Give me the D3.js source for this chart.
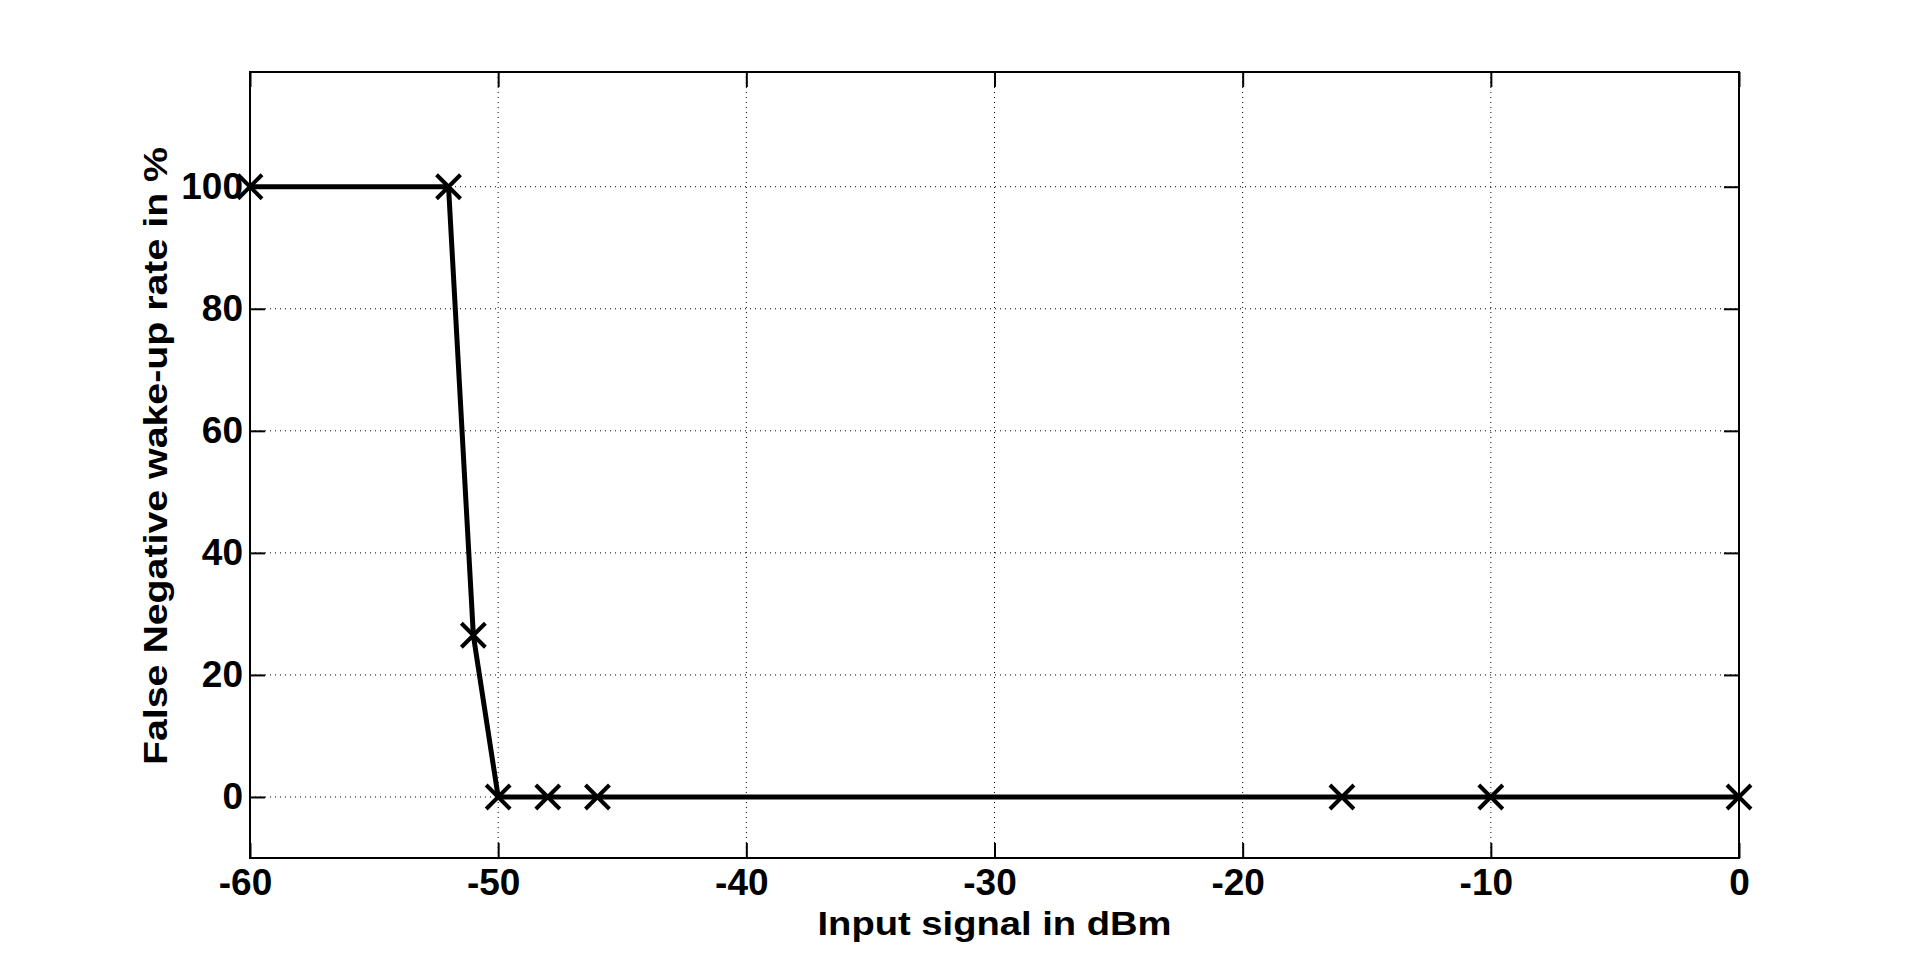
<!DOCTYPE html>
<html>
<head>
<meta charset="utf-8">
<script src="https://cdnjs.cloudflare.com/ajax/libs/d3/7.8.5/d3.min.js"></script>
<style>
  body { margin: 0; background: #fff; }
  text { font-family: "Liberation Sans", Arial, sans-serif; font-weight: bold; fill: #000; }
</style>
</head>
<body>
<div id="chart"></div>
<script>
// data
var inputDbm = [-60, -52, -51, -50, -48, -46, -16, -10, 0];
var falseNegRate = [100, 100, 26.5, 0, 0, 0, 0, 0, 0];
var xTicks = [-60, -50, -40, -30, -20, -10, 0];
var yTicks = [0, 20, 40, 60, 80, 100];

var width = 1921, height = 964;
var margin = { left: 250, right: 1921 - 1739, top: 72, bottom: 964 - 858 };

var svg = d3.select("#chart").append("svg")
    .attr("width", width)
    .attr("height", height);

var x = d3.scaleLinear().domain([-60, 0]).range([margin.left, width - margin.right]);
var y = d3.scaleLinear().domain([-10, 118.8]).range([height - margin.bottom, margin.top]);

// grid
var grid = svg.append("g").attr("class", "grid");
grid.selectAll("line.gx")
    .data(xTicks.slice(1, -1))
    .enter().append("line")
    .attr("x1", function(d){ return x(d); })
    .attr("x2", function(d){ return x(d); })
    .attr("y1", y.range()[0])
    .attr("y2", y.range()[1])
    .style("stroke", "#000")
    .style("stroke-width", 1)
    .style("stroke-dasharray", "1,4");
grid.selectAll("line.gy")
    .data(yTicks)
    .enter().append("line")
    .attr("x1", x.range()[0])
    .attr("x2", x.range()[1])
    .attr("y1", function(d){ return y(d); })
    .attr("y2", function(d){ return y(d); })
    .style("stroke", "#000")
    .style("stroke-width", 1)
    .style("stroke-dasharray", "1,4");

// axes, ticks pointing inward on all four sides
var tickLen = 15;
var plain = function(d){ return String(d); };   // hyphen minus like the original
var xAxisB = d3.axisBottom(x).tickValues(xTicks).tickSizeInner(-tickLen).tickSizeOuter(0).tickPadding(11).tickFormat(plain);
var xAxisT = d3.axisTop(x).tickValues(xTicks).tickSizeInner(-tickLen).tickSizeOuter(0).tickFormat("");
var yAxisL = d3.axisLeft(y).tickValues(yTicks).tickSizeInner(-tickLen).tickSizeOuter(0).tickPadding(7).tickFormat(plain);
var yAxisR = d3.axisRight(y).tickValues(yTicks).tickSizeInner(-tickLen).tickSizeOuter(0).tickFormat("");

function styleAxis(g){
    g.select(".domain").remove();
    g.selectAll(".tick line").style("stroke", "#000").style("stroke-width", 2);
    g.selectAll(".tick text")
        .style("font-family", "'Liberation Sans', Arial, sans-serif")
        .style("font-weight", "bold")
        .style("font-size", "37px")
        .style("fill", "#000");
}

svg.append("g").attr("transform", "translate(0," + y.range()[0] + ")").call(xAxisB).call(styleAxis)
    .selectAll(".tick text")
    .attr("dx", function(d){ return d < 0 ? -5 : 0; });
svg.append("g").attr("transform", "translate(0," + y.range()[1] + ")").call(xAxisT).call(styleAxis);
svg.append("g").attr("transform", "translate(" + x.range()[0] + ",0)").call(yAxisL).call(styleAxis);
svg.append("g").attr("transform", "translate(" + x.range()[1] + ",0)").call(yAxisR).call(styleAxis);

// box
svg.append("rect")
    .attr("x", x.range()[0])
    .attr("y", y.range()[1])
    .attr("width", x.range()[1] - x.range()[0])
    .attr("height", y.range()[0] - y.range()[1])
    .style("fill", "none")
    .style("stroke", "#000")
    .style("stroke-width", 2);

// data line
var points = inputDbm.map(function(d, i){ return [d, falseNegRate[i]]; });
var line = d3.line()
    .x(function(d){ return x(d[0]); })
    .y(function(d){ return y(d[1]); });

svg.append("path")
    .datum(points)
    .attr("d", line)
    .style("fill", "none")
    .style("stroke", "#000")
    .style("stroke-width", 5)
    .style("stroke-linejoin", "round");

// x markers
var m = 12;
svg.selectAll("path.marker")
    .data(points)
    .enter().append("path")
    .attr("class", "marker")
    .attr("d", function(d){
        var cx = x(d[0]), cy = y(d[1]);
        return "M" + (cx - m) + "," + (cy - m) + "L" + (cx + m) + "," + (cy + m) +
               "M" + (cx - m) + "," + (cy + m) + "L" + (cx + m) + "," + (cy - m);
    })
    .style("stroke", "#000")
    .style("stroke-width", 4)
    .style("fill", "none");

// labels
svg.append("text")
    .attr("x", (x.range()[0] + x.range()[1]) / 2)
    .attr("y", 935)
    .attr("text-anchor", "middle")
    .style("font-size", "34px")
    .attr("textLength", 354)
    .attr("lengthAdjust", "spacingAndGlyphs")
    .text("Input signal in dBm");

svg.append("text")
    .attr("transform", "translate(167,456) rotate(-90)")
    .attr("text-anchor", "middle")
    .style("font-size", "34px")
    .attr("textLength", 618)
    .attr("lengthAdjust", "spacingAndGlyphs")
    .text("False Negative wake-up rate in %");
</script>
</body>
</html>
